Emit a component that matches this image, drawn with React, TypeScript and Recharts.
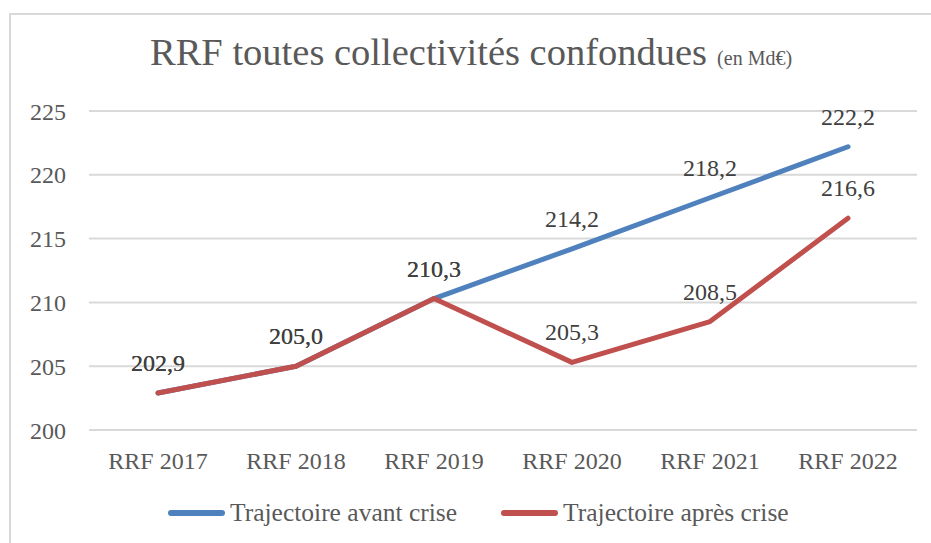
import { CartesianGrid, LabelList, Legend, Line, LineChart, XAxis, YAxis } from "recharts";

const years = ["RRF 2017", "RRF 2018", "RRF 2019", "RRF 2020", "RRF 2021", "RRF 2022"];
const avantCrise = [202.9, 205.0, 210.3, 214.2, 218.2, 222.2];
const apresCrise = [202.9, 205.0, 210.3, 205.3, 208.5, 216.6];
const yTicks = [200, 205, 210, 215, 220, 225];

const SERIES = [
  { key: "avant", name: "Trajectoire avant crise", color: "#4f81bd" },
  { key: "apres", name: "Trajectoire après crise", color: "#c0504d" },
];

const FONT = "'Liberation Serif', 'DejaVu Serif', serif";

const data = years.map((year, i) => ({
  year,
  avant: avantCrise[i],
  apres: apresCrise[i],
}));

const fmt = (v: unknown) => Number(v).toFixed(1).replace(".", ",");

function LegendContent() {
  return (
    <div style={{ height: 63, position: "relative", fontFamily: FONT }}>
      <div style={{ position: "absolute", left: 168, top: 16, display: "flex", alignItems: "center" }}>
        {SERIES.map((s, i) => (
          <div key={s.key} style={{ display: "flex", alignItems: "center", marginLeft: i === 0 ? 0 : 44 }}>
            <div style={{ width: 57, height: 6, borderRadius: 3, background: s.color }} />
            <span style={{ marginLeft: 5, fontSize: 25.5, color: "#595959", lineHeight: "34px", whiteSpace: "nowrap" }}>
              {s.name}
            </span>
          </div>
        ))}
      </div>
    </div>
  );
}

export default function App() {
  return (
    <div style={{ position: "absolute", left: 0, top: 0, width: 931, height: 543, overflow: "hidden", background: "#fff" }}>
      <div
        style={{
          position: "absolute",
          left: 9,
          top: 13,
          width: 940,
          height: 560,
          border: "2px solid #d9d9d9",
          boxSizing: "border-box",
        }}
      />
      <svg width={931} height={100} style={{ position: "absolute", left: 0, top: 0 }}>
        <text x={150} y={65} fontFamily={FONT} fontSize={38.5} fill="#595959">
          RRF toutes collectivités confondues
          <tspan dx={10} fontSize={20}>(en Md€)</tspan>
        </text>
      </svg>
      <div style={{ position: "absolute", left: 0, top: 0 }}>
        <LineChart width={931} height={543} data={data} margin={{ top: 111, right: 14, left: 9, bottom: 0 }}>
          <CartesianGrid vertical={false} stroke="#d9d9d9" strokeWidth={2} />
          <XAxis
            dataKey="year"
            height={50}
            axisLine={false}
            tickLine={false}
            tickSize={0}
            tickMargin={22}
            padding={{ left: 69, right: 69 }}
            tick={{ fontFamily: FONT, fontSize: 24, fill: "#595959" }}
          />
          <YAxis
            width={80}
            domain={[200, 225]}
            ticks={yTicks}
            axisLine={false}
            tickLine={false}
            tickSize={0}
            tickMargin={23}
            tick={{ fontFamily: FONT, fontSize: 24, fill: "#595959" }}
          />
          <Legend verticalAlign="bottom" content={<LegendContent />} wrapperStyle={{ left: 0, width: 931 }} />
          {SERIES.map((s) => (
            <Line
              key={s.key}
              dataKey={s.key}
              name={s.name}
              stroke={s.color}
              strokeWidth={5}
              strokeLinecap="round"
              strokeLinejoin="round"
              dot={false}
              activeDot={false}
              isAnimationActive={false}
            >
              <LabelList
                dataKey={s.key}
                position="top"
                offset={22}
                formatter={fmt}
                style={{ fontFamily: FONT, fontSize: 24, fill: "#404040" }}
              />
            </Line>
          ))}
        </LineChart>
      </div>
    </div>
  );
}
